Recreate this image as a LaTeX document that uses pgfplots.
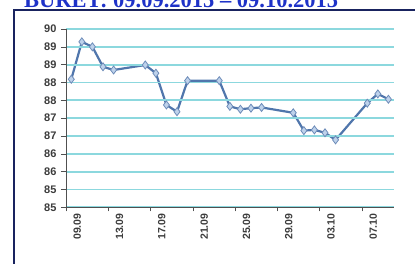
\documentclass[border=0pt]{standalone}
\usepackage{pgfplots}
\pgfplotsset{compat=1.18}
\usepackage{fontspec}
\setmainfont{Liberation Serif}
\newfontfamily\arial{Liberation Sans}
\definecolor{titleblue}{RGB}{30,50,200}
\definecolor{frameblue}{RGB}{25,35,95}
\definecolor{gridcyan}{RGB}{140,216,222}
\definecolor{lineblue}{RGB}{80,118,172}
\definecolor{markfill}{RGB}{190,210,235}
\definecolor{markdraw}{RGB}{110,140,185}
\definecolor{axisgray}{RGB}{80,80,80}
\definecolor{labgray}{RGB}{60,60,60}
\begin{document}
\begin{tikzpicture}[x=1pt,y=1pt]
\useasboundingbox (0,0) rectangle (415,264);
\draw[frameblue, line width=2pt] (14,-5) -- (14,254) -- (420,254);
\node[anchor=base west, font=\bfseries\fontsize{22.5}{22.5}\selectfont, text=titleblue, inner sep=0] at (24,256) {BURET: 09.09.2015 -- 09.10.2015};
\begin{axis}[
  at={(66pt,56.7pt)}, anchor=south west,
  scale only axis, width=327.7pt, height=178.3pt,
  xmin=0, xmax=31, ymin=85, ymax=90,
  axis lines*=left,
  axis line style={axisgray, line width=0.8pt},
  axis on top,
  ytick={85,85.5,86,86.5,87,87.5,88,88.5,89,89.5,90},
  yticklabels={85,85,86,86,87,87,88,88,89,89,90},
  xtick={0.5,4.5,8.5,12.5,16.5,20.5,24.5,28.5},
  xticklabels={09.09,13.09,17.09,21.09,25.09,29.09,03.10,07.10},
  minor xtick={0,4,8,12,16,20,24,28},
  major x tick style={draw=none},
  minor x tick style={draw=axisgray, line width=0.6pt},
  y tick style={draw=axisgray, line width=0.6pt},
  tick align=outside,
  major tick length=5pt, minor tick length=4pt,
  ymajorgrids,
  grid style={gridcyan, line width=1.8pt},
  yticklabel style={font=\arial\bfseries\fontsize{11}{11}\selectfont, text=labgray, xshift=-1pt},
  xticklabel style={font=\arial\bfseries\fontsize{10.5}{10.5}\selectfont, text=labgray, rotate=90, anchor=east, inner sep=1pt, yshift=-6pt},
]
\addplot[color=lineblue, line width=2.2pt, mark=diamond*, mark size=4pt,
  mark options={fill=markfill, draw=markdraw, line width=0.8pt}] coordinates {
(0.5,88.59) (1.5,89.64) (2.5,89.50) (3.5,88.94) (4.5,88.85)
(7.5,88.99) (8.5,88.76) (9.5,87.87) (10.5,87.68) (11.5,88.55)
(14.5,88.55) (15.5,87.83) (16.5,87.75) (17.5,87.78) (18.5,87.80)
(21.5,87.65) (22.5,87.15) (23.5,87.17) (24.5,87.09) (25.5,86.89)
(28.5,87.92) (29.5,88.18) (30.5,88.03)
};
\end{axis}
\end{tikzpicture}
\end{document}
